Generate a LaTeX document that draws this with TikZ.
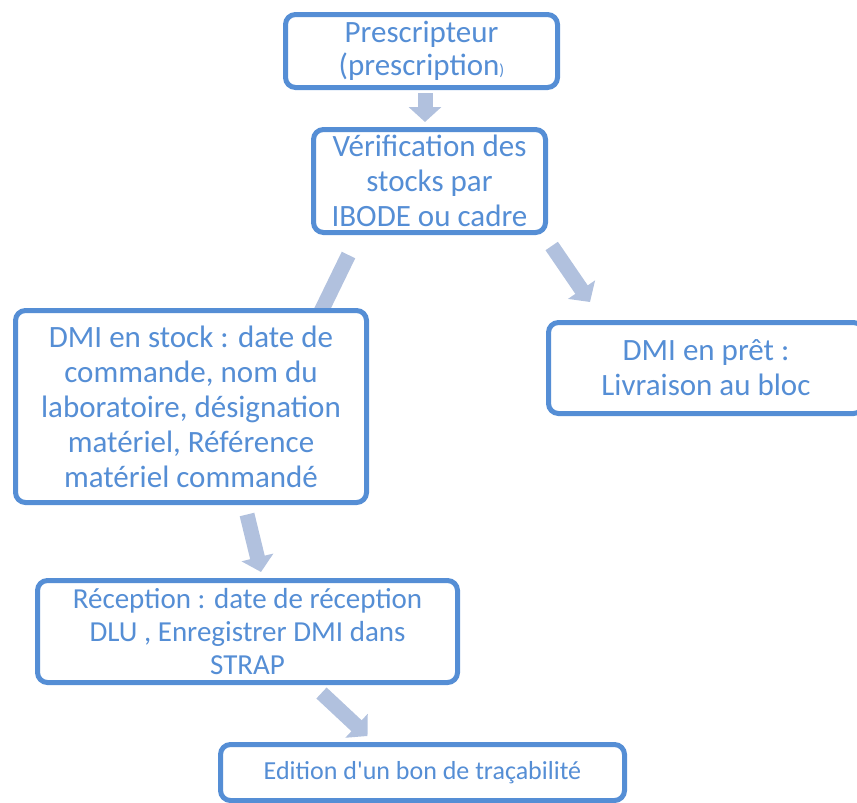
\documentclass[tikz,border=0pt]{standalone}
\usepackage{fontspec}
\setmainfont{Carlito}[Ligatures=TeXOff]
\usetikzlibrary{arrows.meta}
\definecolor{bordc}{RGB}{85,142,213}
\definecolor{txtc}{RGB}{85,142,213}
\definecolor{arrc}{RGB}{177,193,222}
\begin{document}
\begin{tikzpicture}[x=1pt,y=-1pt,
  box/.style={draw=bordc, line width=5pt, rounded corners=10pt, fill=white,
    text=txtc, align=center, inner sep=0pt, font=\fontsize{31}{35}\selectfont},
  blockarrow/.style={draw=arrc, line width=15pt, -{Triangle[width=32pt,length=15pt]}}]
\clip (0,0) rectangle (857,803);
% connectors (drawn first, boxes cover them)
\coordinate (a1s) at (425,93);   \coordinate (a1e) at (425,122);
\coordinate (a2s) at (348.5,255); \coordinate (a2e) at (312,330);
\coordinate (a3s) at (551.7,246); \coordinate (a3e) at (590,302);
\coordinate (a4s) at (247,514.5); \coordinate (a4e) at (261,572);
\coordinate (a5s) at (321.5,693); \coordinate (a5e) at (367.5,736);
\draw[blockarrow] (a1s) -- (a1e);
\draw[blockarrow] (a2s) -- (a2e);
\draw[blockarrow] (a3s) -- (a3e);
\draw[blockarrow] (a4s) -- (a4e);
\draw[blockarrow] (a5s) -- (a5e);
% boxes
\node[box, minimum width=272pt, minimum height=73pt, font=\fontsize{31}{33}\selectfont] (presc) at (421.5,51)
  {\raisebox{0pt}{}Prescripteur\\(prescription{\fontsize{16}{18}\selectfont)}};
\node[box, minimum width=232pt, minimum height=103pt] (verif) at (429.5,181)
  {Vérification des\\stocks par\\IBODE ou cadre};
\node[box, minimum width=351pt, minimum height=192pt] (stock) at (191,406.5)
  {DMI en stock : date de\\commande, nom du\\laboratoire, désignation\\matériel, Référence\\matériel commandé};
\node[box, minimum width=315pt, minimum height=91pt] (pret) at (706,368)
  {DMI en prêt :\\Livraison au bloc};
\node[box, minimum width=420pt, minimum height=102pt, font=\fontsize{29}{33}\selectfont] (recep) at (247.5,631.5)
  {Réception : date de réception\\DLU , Enregistrer DMI dans\\STRAP};
\node[box, minimum width=404pt, minimum height=56pt, font=\fontsize{26}{30}\selectfont] (edit) at (422.5,772.5)
  {Edition d'un bon de traçabilité};
\end{tikzpicture}
\end{document}
